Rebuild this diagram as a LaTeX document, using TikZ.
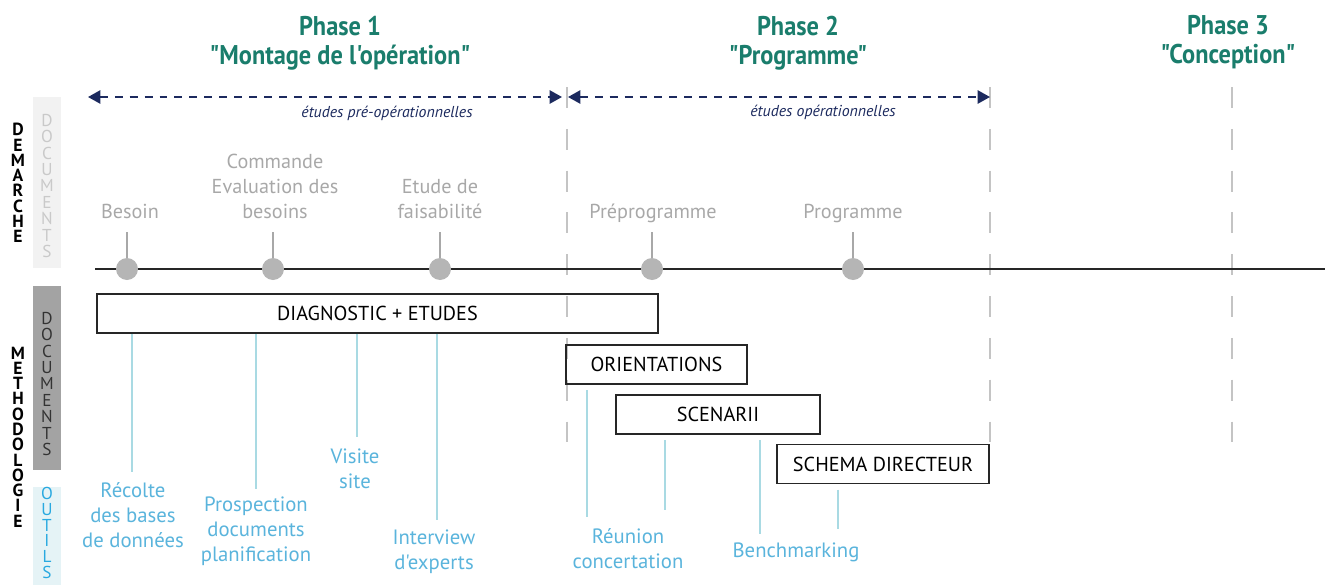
\documentclass[tikz,border=0pt]{standalone}
\usepackage{fontspec}
\newfontfamily\ptsans{PT Sans}
\newfontfamily\phasefont[FakeStretch=0.9]{PT Sans}
\usetikzlibrary{arrows.meta}
\definecolor{phasegreen}{HTML}{1A7D6C}
\definecolor{navy}{HTML}{1C2A5E}
\definecolor{stepgrey}{HTML}{A8A8A8}
\definecolor{dotgrey}{HTML}{B5B5B5}
\definecolor{cutgrey}{HTML}{C4C4C4}
\definecolor{toolblue}{HTML}{5AB4DC}
\definecolor{stemblue}{HTML}{A9DAE3}
\definecolor{paledoc}{HTML}{F2F2F2}
\definecolor{paletext}{HTML}{C9C9C9}
\definecolor{darkdoc}{HTML}{A3A3A3}
\definecolor{paletool}{HTML}{E5F3F6}
\definecolor{outilblue}{HTML}{29A9E0}

\begin{document}
\begin{tikzpicture}[x=0.02cm, y=-0.02cm,
    phase/.style={text=phasegreen, align=center, font=\phasefont\bfseries\fontsize{15.4}{16.4}\selectfont},
    span/.style={navy, line width=1.1pt, dash pattern=on 4.5pt off 4pt,
      {Triangle[length=7pt,width=7.5pt]}-{Triangle[length=7pt,width=7.5pt]}},
    spanlabel/.style={text=navy, font=\ptsans\itshape\fontsize{9}{10}\selectfont},
    cut/.style={cutgrey, line width=1.1pt, dash pattern=on 11.9pt off 11.9pt},
    dot/.style={circle, fill=dotgrey, minimum size=0.44cm, inner sep=0pt},
    steplabel/.style={text=stepgrey, align=center, anchor=south, inner xsep=0pt, inner ysep=7.4pt,
      text depth=0pt, font=\ptsans\fontsize{11.5}{14.2}\selectfont},
    stepstem/.style={stepgrey, line width=1.1pt},
    docbox/.style={draw=black!85, line width=1.1pt, minimum height=0.78cm, inner sep=0pt,
      font=\ptsans\fontsize{11.5}{13}\selectfont},
    tool/.style={text=toolblue, align=center, font=\ptsans\fontsize{11.8}{14.2}\selectfont},
    toolstem/.style={stemblue, line width=1.1pt},
    sidetitle/.style={align=center, font=\ptsans\bfseries\fontsize{10}{8.7}\selectfont},
    sidetag/.style={align=center, font=\ptsans\fontsize{9.8}{9.3}\selectfont}
  ]
\useasboundingbox (0,0) rectangle (1325,585);

% left column
\fill[paledoc] (33,97) rectangle (61,268);
\fill[darkdoc] (33,286) rectangle (61,470);
\fill[paletool] (33,487) rectangle (61,585);
\node[sidetitle] (demarche) at (18,183) {D\\E\\M\\A\\R\\C\\H\\E};
\node[sidetitle] (methodo) at (18,437) {M\\E\\T\\H\\O\\D\\O\\L\\O\\G\\I\\E};
\node[sidetag, text=paletext] (docsa) at (47,186) {D\\O\\C\\U\\M\\E\\N\\T\\S};
\node[sidetag, text=black!80] (docsb) at (47,384) {D\\O\\C\\U\\M\\E\\N\\T\\S};
\node[sidetag, text=outilblue, font=\ptsans\fontsize{9.8}{9}\selectfont] (outils) at (47,533) {O\\U\\T\\I\\L\\S};

% phases
\node[phase] (phase1) at (340,43) {Phase 1\\"Montage de l'opération"};
\node[phase] (phase2) at (798,43) {Phase 2\\"Programme"};
\node[phase] (phase3) at (1228,42) {Phase 3\\"Conception"};

\draw[cut] (567,87) -- (567,443);
\draw[cut] (990,87) -- (990,443);
\draw[cut] (1232,87) -- (1232,443);

\coordinate (prea) at (88,97);
\coordinate (preb) at (562,97);
\coordinate (opa) at (568,97);
\coordinate (opb) at (990,97);
\draw[span] (prea) -- (preb);
\draw[span] (opa) -- (opb);
\node[spanlabel] (prelabel) at (387,113) {études pré-opérationnelles};
\node[spanlabel] (oplabel) at (823,112) {études opérationnelles};

% timeline
\coordinate (tstart) at (95,269);
\coordinate (tend) at (1325,269);
\draw[black!85, line width=1.1pt] (tstart) -- (tend);

\node[steplabel] (lbesoin) at (130,232) {Besoin};
\node[steplabel] (lcommande) at (275,232) {Commande\\Evaluation des\\besoins};
\node[steplabel] (letude) at (440,232) {Etude de\\faisabilité};
\node[steplabel] (lpreprog) at (653,232) {Préprogramme};
\node[steplabel] (lprog) at (853,232) {Programme};

\node[dot] (besoin) at (127,269) {};
\node[dot] (commande) at (273,269) {};
\node[dot] (etude) at (440,269) {};
\node[dot] (preprog) at (652,269) {};
\node[dot] (prog) at (853,269) {};
\draw[stepstem] (besoin) -- (besoin |- lbesoin.south);
\draw[stepstem] (commande) -- (commande |- lcommande.south);
\draw[stepstem] (etude) -- (etude |- letude.south);
\draw[stepstem] (preprog) -- (preprog |- lpreprog.south);
\draw[stepstem] (prog) -- (prog |- lprog.south);

% documents
\node[docbox, minimum width=11.22cm] (diag) at (377.5,313.5) {DIAGNOSTIC + ETUDES};
\node[docbox, minimum width=3.62cm] (orient) at (656.5,364.5) {ORIENTATIONS};
\node[docbox, minimum width=4.08cm] (scen) at (718,414.5) {SCENARII};
\node[docbox, minimum width=4.24cm] (schema) at (883,464) {SCHEMA DIRECTEUR};

% outils
\node[tool] (recolte) at (133,515) {Récolte\\des bases\\de données};
\node[tool] (prospect) at (256,531) {Prospection\\documents\\planification};
\node[tool] (visite) at (355,469) {Visite\\site};
\node[tool] (interview) at (434,552) {Interview\\d'experts};
\node[tool] (reunion) at (628,549) {Réunion\\concertation};
\node[tool] (bench) at (796,552) {Benchmarking};

\coordinate (frecolte) at (132,472);
\coordinate (fprospect) at (256,489);
\coordinate (fvisite) at (357,437);
\coordinate (finterview) at (437,520);
\coordinate (freuniona) at (587,517);
\coordinate (freunionb) at (665,510);
\coordinate (fbencha) at (760,534);
\coordinate (fbenchb) at (838,529);
\draw[toolstem] (diag.south -| frecolte) -- (frecolte);
\draw[toolstem] (diag.south -| fprospect) -- (fprospect);
\draw[toolstem] (diag.south -| fvisite) -- (fvisite);
\draw[toolstem] (diag.south -| finterview) -- (finterview);
\draw[toolstem, shorten <=3pt] (orient.south -| freuniona) -- (freuniona);
\draw[toolstem, shorten <=3pt] (scen.south -| freunionb) -- (freunionb);
\draw[toolstem, shorten <=3pt] (scen.south -| fbencha) -- (fbencha);
\draw[toolstem, shorten <=3pt] (schema.south -| fbenchb) -- (fbenchb);
\end{tikzpicture}
\end{document}
